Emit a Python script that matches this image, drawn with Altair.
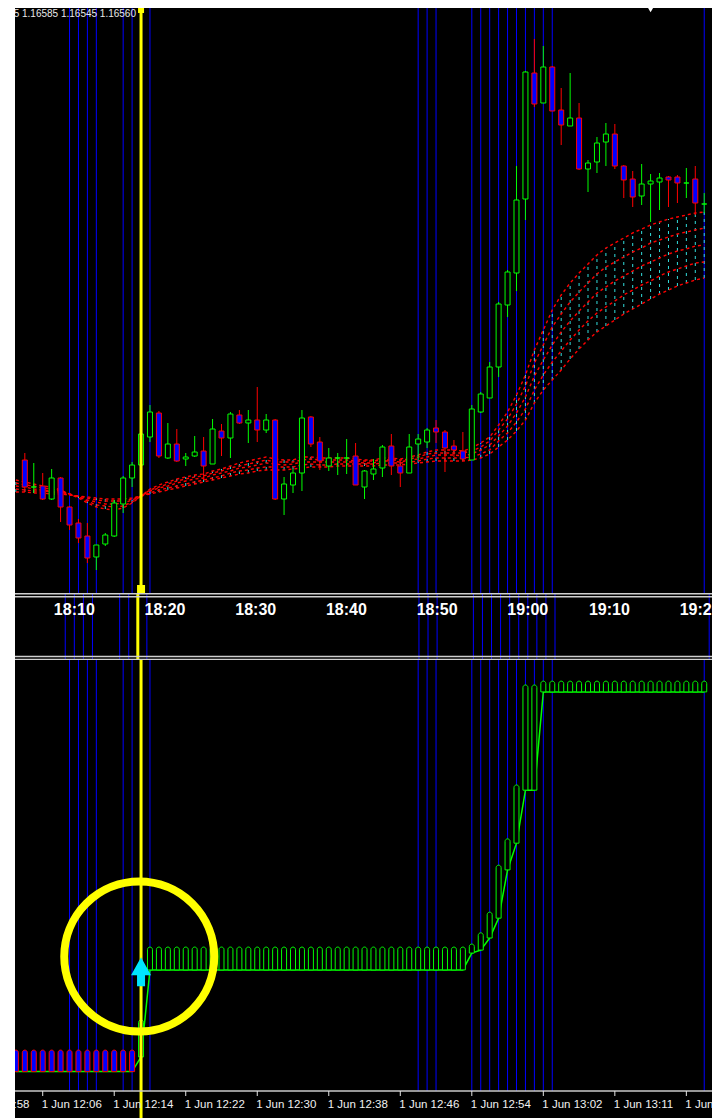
import altair as alt
import pandas as pd

# ---------------- data ----------------
BASE = 1.16          # prices below are in points (0.00001) above 1.16000
PT = 0.00001

# candles, bars 4..80 (one bar per minute)
open_pts = [540,513,514,501,522,493,477,464,443,456,464,496,522,535,563,587,542,556,541,544,
            549,536,569,562,585,577,580,570,580,501,515,527,583,558,534,542,542,544,513,526,
            532,554,534,527,556,558,572,568,554,549,540,588,602,633,695,727,801,927,897,933,
            890,874,882,831,838,858,866,834,821,804,816,818,823,823,817,821,796]
high_pts = [547,537,527,531,523,494,481,477,455,467,500,524,538,578,595,589,577,571,547,564,
            563,581,576,588,590,590,613,586,581,523,531,590,584,563,552,547,561,557,530,541,
            555,566,540,566,566,572,580,570,560,568,595,608,638,698,730,834,929,961,954,934,
            912,927,897,840,863,877,876,835,829,836,826,827,824,825,832,834,807]
low_pts = [508,507,500,500,478,470,457,437,430,454,463,487,513,534,558,542,541,538,534,543,
           520,536,544,542,576,557,558,567,500,485,507,509,553,530,529,525,526,515,501,520,
           523,525,513,527,540,552,557,528,543,540,540,587,602,623,683,709,780,893,897,889,
           855,874,830,808,827,834,831,802,793,795,778,790,793,797,802,785,787]
close_pts = [513,513,501,522,493,475,462,442,455,465,497,522,535,566,588,544,556,539,543,548,
             534,571,562,586,577,580,570,580,501,516,527,582,556,539,542,542,542,515,529,531,
             553,534,527,553,561,570,568,552,550,541,591,606,633,696,728,800,928,896,933,889,
             875,882,831,837,857,866,834,820,803,816,819,822,820,817,817,797,796]
first_bar = 4

# moving-average ribbon, bars 3..80 (points above 1.16000)
ma_1 = [520,518,516,514,513,510,506,502,497,493,491,490,492,497,504,511,515,518,521,523,
        525,526,529,531,534,537,539,541,543,541,540,540,543,543,542,542,542,542,541,540,
        540,542,542,541,543,545,548,550,550,550,549,552,557,563,575,588,605,625,650,670,
        690,705,717,727,736,745,752,757,762,767,771,775,778,781,783,785,787,788]
ma_2 = [517,515,514,512,511,509,506,503,499,495,494,493,494,498,504,510,513,516,519,521,
        523,524,527,529,532,534,536,538,540,538,538,538,540,541,540,540,540,540,539,539,
        539,540,540,540,541,543,546,547,547,547,547,549,553,559,570,581,596,614,637,655,
        673,686,698,708,717,726,733,738,743,748,752,757,760,763,766,768,770,772]
ma_3 = [514,513,511,510,509,508,506,503,500,498,496,496,497,500,504,509,512,514,517,519,
        521,522,525,527,529,532,533,535,537,536,535,536,538,538,538,538,538,538,538,537,
        537,539,539,538,540,541,543,545,545,545,544,546,550,555,564,574,587,603,624,640,
        655,668,679,689,698,707,713,719,724,729,734,738,742,746,749,751,754,755]
ma_4 = [511,510,509,509,508,507,505,504,502,500,499,499,499,501,504,507,510,512,514,516,
        518,520,522,524,527,529,530,532,533,533,533,533,535,536,535,535,536,536,536,536,
        536,537,537,537,538,539,541,542,542,542,542,543,546,550,559,567,578,591,610,625,
        638,649,660,670,679,687,693,699,705,710,715,719,724,728,731,734,737,738]
ma_5 = [508,508,507,507,506,506,505,504,503,502,501,501,501,502,504,506,508,510,512,514,
        516,518,520,522,524,526,527,529,530,530,530,531,532,533,533,533,534,534,534,534,
        534,535,535,535,536,537,538,539,539,539,539,540,542,546,553,560,569,580,597,610,
        620,630,641,651,660,668,674,680,686,691,696,701,706,710,714,717,720,722]
ma_first_bar = 3

# lower indicator, bars 3..80
ind_line = [4.5,4.5,4.5,4.5,4.5,4.5,4.5,4.5,4.5,4.5,4.5,4.5,4.5,4.5,
            7.9,
            28.1,28.1,28.1,28.1,28.1,28.1,28.1,28.1,28.1,28.1,28.1,28.1,28.1,28.1,28.1,28.1,28.1,28.1,
            28.1,28.1,28.1,28.1,28.1,28.1,28.1,28.1,28.1,28.1,28.1,28.1,28.1,28.1,28.1,28.1,28.1,28.1,
            32.0,32.7,35.5,40.1,51.3,57.5,69.8,69.8,
            92.6,92.6,92.6,92.6,92.6,92.6,92.6,92.6,92.6,92.6,92.6,92.6,92.6,92.6,92.6,92.6,92.6,92.6,92.6]
ind_top = [9.5,9.5,9.5,9.5,9.5,9.5,9.5,9.5,9.5,9.5,9.5,9.5,9.5,9.5,
           16.5,
           33.4,33.4,33.4,33.4,33.4,33.4,33.4,33.4,33.4,33.4,33.4,33.4,33.4,33.4,33.4,33.4,33.4,33.4,
           33.4,33.4,33.4,33.4,33.4,33.4,33.4,33.4,33.4,33.4,33.4,33.4,33.4,33.4,33.4,33.4,33.4,33.4,
           34.1,36.7,41.5,52.4,58.5,71.0,94.2,94.2,
           95.1,95.1,95.1,95.1,95.1,95.1,95.1,95.1,95.1,95.1,95.1,95.1,95.1,95.1,95.1,95.1,95.1,95.1,95.1]
ind_trend = [-1]*14 + [1]*64
ind_first_bar = 3

blue_bars = [9,10,11,12,15,16,18,48,49,50,54,55,56,57,58,59,60,61,62,63,80]
signal_bar = 17
signal_value = 27.7
circle_center = (16.8, 31.2)
shift_marker_bar = 74

top_time_pos = [10,20,30,40,50,60,69,79]
top_time_labels = ["18:10","18:20","18:30","18:40","18:50","19:00","19:10","19:20"]
bot_tick_pos = [-2,6,14,22,30,38,46,54,62,70,78]
bot_tick_labels = ["1 Jun 11:58","1 Jun 12:06","1 Jun 12:14","1 Jun 12:22","1 Jun 12:30",
                   "1 Jun 12:38","1 Jun 12:46","1 Jun 12:54","1 Jun 13:02","1 Jun 13:11","1 Jun 13:19"]
info_text = "EURUSD,M1 1.16575 1.16585 1.16545 1.16560"

# ---------------- frames ----------------
n = min(len(open_pts), len(high_pts), len(low_pts), len(close_pts))
cdf = pd.DataFrame({
    "m": list(range(first_bar, first_bar + n)),
    "open": [BASE + v * PT for v in open_pts[:n]],
    "high": [BASE + v * PT for v in high_pts[:n]],
    "low": [BASE + v * PT for v in low_pts[:n]],
    "close": [BASE + v * PT for v in close_pts[:n]],
})
bull = cdf["close"] >= cdf["open"]
cdf["wick"] = ["#00ff00" if b else "#ff0000" for b in bull]
cdf["edge"] = cdf["wick"]
cdf["fill"] = ["#000000" if b else "#0000ff" for b in bull]

ma_rows = []
for name, arr in [("ma1", ma_1), ("ma2", ma_2), ("ma3", ma_3), ("ma4", ma_4), ("ma5", ma_5)]:
    for i, v in enumerate(arr):
        ma_rows.append({"m": ma_first_bar + i, "line": name, "price": BASE + v * PT})
ma_long = pd.DataFrame(ma_rows)
rib = ma_long.groupby("m")["price"].agg(["min", "max"]).reset_index()
rib.columns = ["m", "lo", "hi"]

k = min(len(ind_line), len(ind_top), len(ind_trend))
idf = pd.DataFrame({
    "m": list(range(ind_first_bar, ind_first_bar + k)),
    "line": ind_line[:k],
    "top": ind_top[:k],
    "trend": ind_trend[:k],
})
idf["fill"] = ["#0000ff" if t < 0 else "#000000" for t in idf["trend"]]
idf["edge"] = ["#ff0000" if t < 0 else "#00ff00" for t in idf["trend"]]

blue_df = pd.DataFrame({"m": blue_bars})
sig_df = pd.DataFrame({"m": [signal_bar], "v": [signal_value]})
circ_df = pd.DataFrame({"m": [circle_center[0]], "v": [circle_center[1]]})
top_lab = pd.DataFrame({"m": top_time_pos, "label": top_time_labels})
bot_lab = pd.DataFrame({"m": bot_tick_pos, "label": bot_tick_labels})
info_df = pd.DataFrame({"t": [info_text]})
shift_df = pd.DataFrame({"m": [shift_marker_bar]})

# ---------------- scales ----------------
W = 697
H_TOP, H_STRIP, H_BOT = 585, 67, 458
xs = alt.Scale(domain=[3.46, 80.31], nice=False, zero=False)
ys = alt.Scale(domain=[BASE + 407 * PT, BASE + 992 * PT], nice=False, zero=False)
yi = alt.Scale(domain=[-6.26, 100], nice=False, zero=False)
FONT = "Liberation Sans"

def X():
    return alt.X("m:Q", scale=xs, axis=None)

BLUE = "#0000ff"
YEL = "#ffff00"

# ---------------- top price panel ----------------
t_blue = alt.Chart(blue_df).mark_rule(color=BLUE, strokeWidth=1, clip=True).encode(x=X())
t_cyan = alt.Chart(rib).mark_rule(color="#33dddd", strokeWidth=1, strokeDash=[3, 4], clip=True).encode(
    x=X(), y=alt.Y("lo:Q", scale=ys, axis=None), y2="hi:Q")
t_ma = alt.Chart(ma_long).mark_line(color="#ff0000", strokeWidth=1.4, strokeDash=[3, 3], clip=True).encode(
    x=X(), y=alt.Y("price:Q", scale=ys, axis=None), detail="line:N")
t_wick = alt.Chart(cdf).mark_rule(strokeWidth=1, clip=True).encode(
    x=X(), y=alt.Y("low:Q", scale=ys, axis=None), y2="high:Q", color=alt.Color("wick:N", scale=None))
t_body = alt.Chart(cdf).mark_bar(width=5, strokeWidth=1, clip=True).encode(
    x=X(), y=alt.Y("open:Q", scale=ys, axis=None), y2="close:Q",
    fill=alt.Fill("fill:N", scale=None), stroke=alt.Stroke("edge:N", scale=None))
t_yel = alt.Chart(sig_df).mark_rule(color=YEL, strokeWidth=3, clip=True).encode(x=X())
t_sq_top = alt.Chart(sig_df).mark_square(color=YEL, filled=True, size=36, opacity=1, clip=True).encode(
    x=X(), y=alt.value(2))
t_sq_bot = alt.Chart(sig_df).mark_square(color=YEL, filled=True, size=64, opacity=1, clip=True).encode(
    x=X(), y=alt.value(581))
t_info = alt.Chart(info_df).mark_text(align="right", baseline="middle", color="#e8e8e8", font=FONT,
                                       fontSize=10, clip=True).encode(
    x=alt.value(121), y=alt.value(6), text="t:N")
t_shift = alt.Chart(shift_df).mark_point(shape="triangle-down", filled=True, color="#ffffff", size=30,
                                         opacity=1, clip=True).encode(x=X(), y=alt.value(2))
top = alt.layer(t_blue, t_cyan, t_ma, t_wick, t_body, t_yel, t_sq_top, t_sq_bot, t_info, t_shift).properties(
    width=W, height=H_TOP)

# ---------------- time strip ----------------
s_blue = alt.Chart(blue_df).mark_rule(color=BLUE, strokeWidth=1, clip=True).encode(x=X())
s_yel = alt.Chart(sig_df).mark_rule(color=YEL, strokeWidth=3, clip=True).encode(x=X())
s_lines = [
    alt.Chart(sig_df).mark_rule(color="#cfcfcf", strokeWidth=1.4, clip=True).encode(
        x=alt.value(0), x2=alt.value(W), y=alt.value(yy))
    for yy in (0.7, 3.7, 63.5, 66.4)
]
s_text = alt.Chart(top_lab).mark_text(color="#ffffff", fontSize=16, fontWeight="bold", font=FONT,
                                      align="center", baseline="middle", clip=True).encode(
    x=X(), y=alt.value(17), text="label:N")
strip = alt.layer(s_blue, s_yel, *s_lines, s_text).properties(width=W, height=H_STRIP)

# ---------------- lower indicator panel ----------------
ARROW = "M0,-1.45L1,0.35L0.4,0.35L0.4,1.45L-0.4,1.45L-0.4,0.35L-1,0.35Z"
b_blue = alt.Chart(blue_df).mark_rule(color=BLUE, strokeWidth=1, clip=True).encode(
    x=X(), y=alt.value(0), y2=alt.value(431))
b_line = alt.Chart(idf).mark_line(color="#00ff00", strokeWidth=1.5, clip=True).encode(
    x=X(), y=alt.Y("line:Q", scale=yi, axis=None))
b_caps = alt.Chart(idf).mark_bar(width=5, cornerRadiusTopLeft=2.5, cornerRadiusTopRight=2.5,
                                 strokeWidth=1, clip=True).encode(
    x=X(), y=alt.Y("line:Q", scale=yi, axis=None), y2="top:Q",
    fill=alt.Fill("fill:N", scale=None), stroke=alt.Stroke("edge:N", scale=None))
b_yel = alt.Chart(sig_df).mark_rule(color=YEL, strokeWidth=3, clip=True).encode(x=X())
b_arrow = alt.Chart(sig_df).mark_point(shape=ARROW, filled=True, size=400, color="#00e5ff", opacity=1,
                                       clip=True).encode(
    x=X(), y=alt.Y("v:Q", scale=yi, axis=None))
b_circle = alt.Chart(circ_df).mark_point(shape="circle", filled=False, size=22500, strokeWidth=8,
                                         color=YEL, opacity=1, clip=True).encode(
    x=X(), y=alt.Y("v:Q", scale=yi, axis=None))
b_axis = alt.Chart(sig_df).mark_rule(color="#c8c8c8", strokeWidth=1.5, clip=True).encode(
    x=alt.value(0), x2=alt.value(W), y=alt.value(431))
b_ticks = alt.Chart(bot_lab).mark_rule(color="#e6e6e6", strokeWidth=1, clip=True).encode(
    x=X(), y=alt.value(431), y2=alt.value(436))
b_text = alt.Chart(bot_lab).mark_text(align="left", baseline="middle", color="#f0f0f0", font=FONT,
                                      fontSize=11.5, dx=-1, clip=True).encode(
    x=X(), y=alt.value(445), text="label:N")
bottom = alt.layer(b_blue, b_line, b_caps, b_yel, b_arrow, b_circle, b_axis, b_ticks, b_text).properties(
    width=W, height=H_BOT)

chart = alt.vconcat(top, strip, bottom, spacing=0).properties(
    background="white",
    padding={"left": 7, "top": 0, "right": 0, "bottom": 0},
).configure_view(fill="black", strokeWidth=0, stroke="transparent")

chart.save("out.html", embed_options={"renderer": "svg", "actions": False})
